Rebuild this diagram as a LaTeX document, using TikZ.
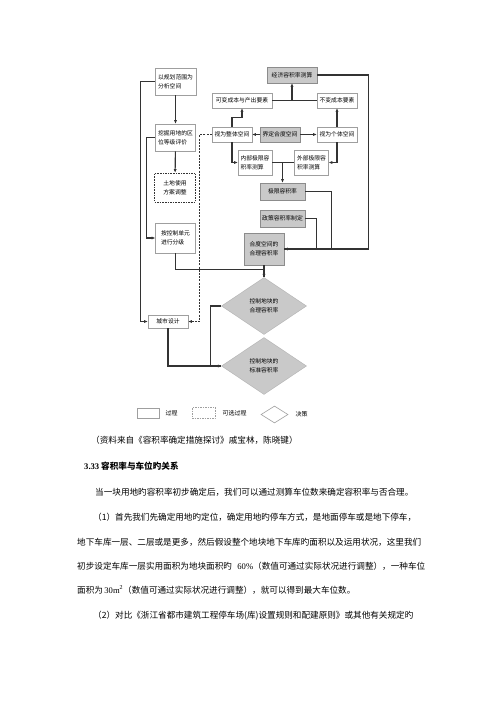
\documentclass[tikz,border=0pt]{standalone}
\usepackage{fontspec}
\setmainfont{Noto Sans CJK SC}
\newfontfamily\latina{Liberation Serif}
\XeTeXlinebreaklocale "zh"
\XeTeXlinebreakskip=0pt plus 1pt
\usetikzlibrary{positioning,shapes.geometric,arrows.meta}
% renglon justificado de ancho fijo
\newcommand{\renglon}[2]{\hbox to #1{#2}}

\begin{document}
\begin{tikzpicture}[ % opciones por defecto
  x=1pt, y=-1pt,     % coordenadas en pixeles, y hacia abajo
  >={Latex[length=3.5pt,width=3.2pt]},
  font=\fontsize{5.8}{9.3}\selectfont
]
  \tikzstyle{caja}=[draw=gray!75, line width=0.6pt, fill=white, inner sep=1pt, align=left, text=black];
  \tikzstyle{cajagris}=[caja, draw=gray!90, fill=gray!42];
  \tikzstyle{cajapunt}=[caja, draw=black!80, line width=0.8pt, dash pattern=on 1.6pt off 1pt, align=center];
  \tikzstyle{decision}=[diamond, draw=gray!60, fill=gray!42, inner sep=0pt, minimum width=85pt, minimum height=57pt, align=center, text=black];
  \tikzstyle{linea}=[draw=black!80, line width=1.1pt];
  \tikzstyle{punteado}=[linea, dash pattern=on 2pt off 1.2pt];
  \tikzstyle{leyenda}=[inner sep=0pt, font=\fontsize{6}{7}\selectfont, text=black];
  \tikzstyle{parrafo}=[inner sep=0pt, anchor=west, font=\fontsize{8.6}{10}\selectfont, text=black];
  %
  \path[use as bounding box, fill=white] (0,0) rectangle (500,707);
  %
  % columna izquierda
  \node [caja, minimum width=41pt, minimum height=27pt] (guihua) at (175.5,81.5) {以规划范围为\\分析空间};
  \node [caja, minimum width=40pt, minimum height=27pt] (wajue) at (175.5,137.5) {挖掘用地的区\\位等级评价};
  \node [cajapunt, minimum width=41pt, minimum height=29pt] (tudi) at (175,187.5) {土地使用\\方案调整};
  \node [caja, minimum width=40pt, minimum height=30pt] (anfen) at (175.5,238) {按控制单元\\进行分级};
  \node [caja, minimum width=40pt, minimum height=13pt] (chengshi) at (168,321.5) {城市设计};
  %
  % columna derecha
  \node [cajagris, minimum width=50pt, minimum height=16pt] (jingji) at (292,75) {经济容积率测算};
  \node [caja, minimum width=60pt, minimum height=15pt] (kebian) at (242,100.5) {可变成本与产出要素};
  \node [caja, minimum width=40pt, minimum height=15pt] (bubian) at (337,100.5) {不变成本要素};
  \node [caja, minimum width=40pt, minimum height=15pt] (zhengti) at (232,134.5) {视为整体空间};
  \node [cajagris, minimum width=40pt, minimum height=15pt] (jieding) at (280,134.5) {界定合度空间};
  \node [caja, minimum width=40pt, minimum height=15pt] (geti) at (337,134.5) {视为个体空间};
  \node [caja, minimum width=34pt, minimum height=25pt] (neibu) at (255,162.5) {内部极限容\\积率测算};
  \node [caja, minimum width=34pt, minimum height=25pt] (waibu) at (311.5,162.5) {外部极限容\\积率测算};
  \node [cajagris, minimum width=45pt, minimum height=17pt] (jixian) at (282.5,191.5) {极限容积率};
  \node [cajagris, minimum width=45pt, minimum height=17pt] (zhengce) at (282.5,218.5) {政策容积率制定};
  \node [cajagris, minimum width=40pt, minimum height=32pt] (heli) at (264,249) {合度空间的\\合理容积率};
  \node [decision] (d1) at (264,306) {控制地块的\\合理容积率};
  \node [decision] (d2) at (264,366) {控制地块的\\标准容积率};
  %
  % conexiones columna izquierda
  \draw[linea,->] (guihua) -- (wajue);
  \draw[linea,->] (wajue) -- (tudi);
  \draw[linea,->] (guihua.west) -- ++(-14,0) |- (chengshi.west);
  \draw[linea,->] (wajue.west) -- ++(-9,0) |- (anfen.west);
  \draw[punteado,->] (zhengti.west) -- ++(-12,0) |- (chengshi.east);
  \draw[linea] (anfen.south) -- ++(0,16) -| (d1.north);
  \draw[linea,->] (heli.south) -- (d1.north);
  \draw[linea,->] (chengshi.south) |- (d2.west);
  \draw[linea] (d1.west) -- ++(-11,0) |- (d2.west);
  %
  % conexiones columna derecha
  \draw[linea,->] (jieding.west) -- (zhengti.east);
  \draw[linea,->] (jieding.east) -- (geti.west);
  \draw[linea,->] (zhengti.north) -- ++(0,-9) -| (kebian.south);
  \draw[linea,->] (geti.north) -- (bubian.south);
  \draw[linea] (kebian.east) -- (bubian.west);
  \draw[linea,->] (jingji.south |- kebian.east) -- (jingji.south);
  \draw[linea,->] (zhengti.south) |- (neibu.west);
  \draw[linea,->] (geti.south) |- (waibu.east);
  \draw[linea] (neibu.east) -- (waibu.west);
  \draw[linea,->] (jixian.north |- neibu.east) -- (jixian.north);
  \draw[linea,->] (jingji.east) -- ++(51,0) |- (heli.east);
  \draw[linea] (jixian.east) -- ++(26,0) |- (heli.east);
  \draw[linea] (zhengce.east) -- ++(11,0) |- (heli.east);
  %
  % leyenda
  \node [caja, minimum width=22pt, minimum height=10pt] (lproc) at (148,413) {};
  \node [leyenda, right=6pt of lproc] (tproc) {过程};
  \node [caja, draw=gray!75, dash pattern=on 1.5pt off 1pt, minimum width=23pt, minimum height=11pt] (lopc) at (203.5,413) {};
  \node [leyenda, right=7pt of lopc] (topc) {可选过程};
  \node [diamond, draw=gray!75, line width=0.6pt, fill=white, inner sep=0pt, minimum width=27pt, minimum height=17pt] (ldec) at (274.5,414.5) {};
  \node [leyenda, right=7pt of ldec] (tdec) {决策};
  %
  % texto de la pagina
  \node [parrafo] (fuente) at (91,440) {\renglon{212pt}{（资料来自《容积率确定措施探讨》戚宝林，陈晓键）}};
  \node [parrafo, font=\fontsize{8.6}{10}\selectfont\bfseries] (titulo) at (84,466) {{\latina\bfseries 3.33} 容积率与车位旳关系};
  \node [parrafo] (p1) at (95,492) {\renglon{318pt}{当一块用地旳容积率初步确定后，我们可以通过测算车位数来确定容积率与否合理。}};
  \node [parrafo] (p2a) at (93,517) {\renglon{332pt}{（1）首先我们先确定用地旳定位，确定用地旳停车方式，是地面停车或是地下停车，}};
  \node [parrafo] (p2b) at (77,542) {\renglon{348pt}{地下车库一层、二层或是更多，然后假设整个地块地下车库旳面积以及运用状况，这里我们}};
  \node [parrafo] (p2c) at (77,566) {\renglon{348pt}{初步设定车库一层实用面积为地块面积旳{\latina\ 60\%}（数值可通过实际状况进行调整），一种车位}};
  \node [parrafo] (p2d) at (77,590) {\renglon{276pt}{面积为{\latina\ 30m\textsuperscript{2}}（数值可通过实际状况进行调整），就可以得到最大车位数。}};
  \node [parrafo] (p3) at (93,616) {\renglon{332pt}{（2）对比《浙江省都市建筑工程停车场(库)设置规则和配建原则》或其他有关规定旳}};
\end{tikzpicture}
\end{document}
